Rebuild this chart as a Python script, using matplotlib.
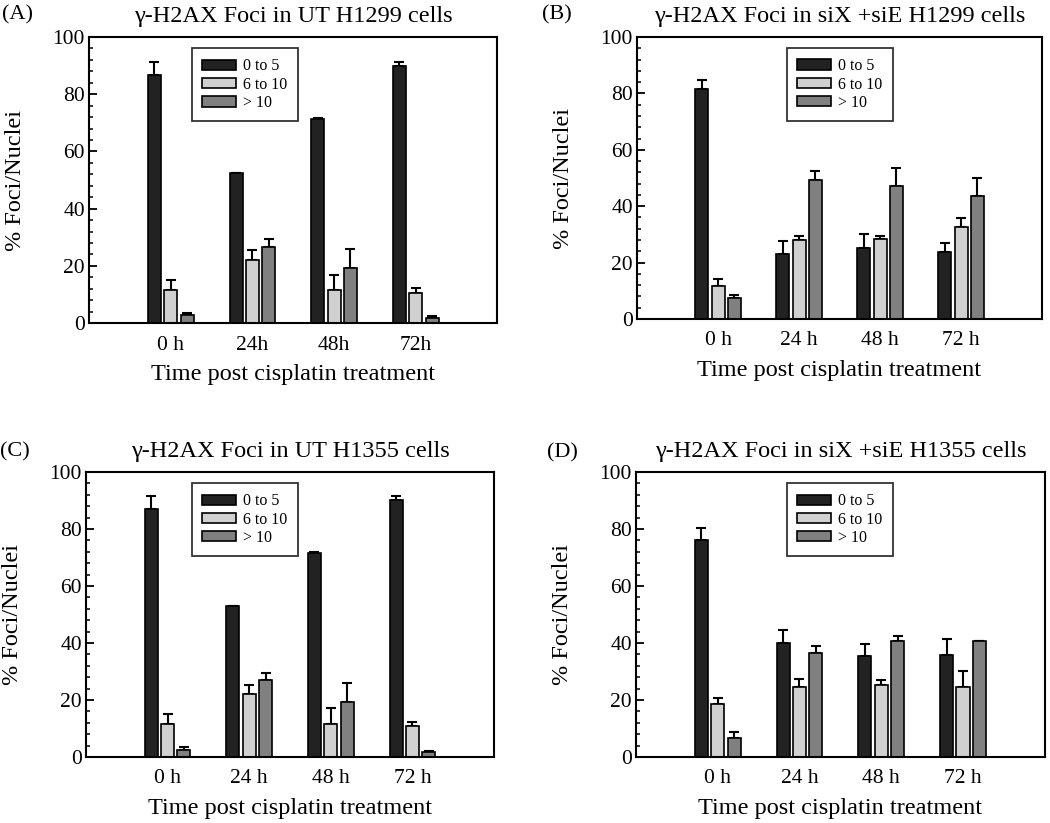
import numpy as np
import matplotlib
matplotlib.use('Agg')
import matplotlib.pyplot as plt
from matplotlib.ticker import MultipleLocator

plt.rcParams['font.family'] = ['Liberation Serif', 'DejaVu Serif']

series_labels = ['0 to 5', '6 to 10', '> 10']
time_labels_a = ['0 h', '24h', '48h', '72h']
time_labels = ['0 h', '24 h', '48 h', '72 h']

# (A) UT H1299
a_low = [86.6, 52.6, 71.3, 89.7]
a_low_err = [4.7, 0.0, 0.5, 1.6]
a_mid = [11.4, 22.1, 11.4, 10.6]
a_mid_err = [3.5, 3.3, 5.5, 1.6]
a_high = [2.7, 26.6, 19.2, 1.9]
a_high_err = [0.8, 2.7, 6.8, 0.4]

# (B) siX +siE H1299
b_low = [81.4, 23.1, 25.1, 23.8]
b_low_err = [3.5, 4.7, 5.0, 3.3]
b_mid = [11.8, 28.1, 28.5, 32.8]
b_mid_err = [2.4, 1.5, 1.1, 2.9]
b_high = [7.4, 49.3, 47.2, 43.6]
b_high_err = [1.1, 3.1, 6.5, 6.3]

# (C) UT H1355
c_low = [87.0, 53.1, 71.6, 90.1]
c_low_err = [4.5, 0.0, 0.4, 1.4]
c_mid = [11.7, 22.2, 11.7, 10.9]
c_mid_err = [3.5, 3.2, 5.5, 1.4]
c_high = [2.6, 26.9, 19.3, 1.8]
c_high_err = [0.9, 2.6, 6.7, 0.3]

# (D) siX +siE H1355
d_low = [76.1, 39.9, 35.6, 35.8]
d_low_err = [4.4, 4.7, 4.1, 5.7]
d_mid = [18.6, 24.7, 25.1, 24.7]
d_mid_err = [2.1, 2.6, 2.0, 5.6]
d_high = [6.7, 36.6, 40.8, 40.8]
d_high_err = [2.1, 2.5, 1.7, 0.0]

colors = ['#222222', '#d0d0d0', '#808080']


def draw_panel(ax, vals, errs, ticklabels, title, leg_x):
    x = np.arange(1, 5)
    width = 0.16
    offsets = [-0.2, 0.0, 0.2]
    for v, e, c, off, lab in zip(vals, errs, colors, offsets, series_labels):
        ax.bar(x + off, v, width, color=c, edgecolor='black', linewidth=1.2,
               label=lab, zorder=2)
        ax.errorbar(x + off, v, yerr=[np.zeros(len(e)), e], fmt='none',
                    ecolor='black', elinewidth=1.5, capsize=3.5, capthick=1.5,
                    zorder=1)
    ax.set_xlim(0, 5)
    ax.set_ylim(0, 100)
    ax.set_xticks(x)
    ax.set_xticklabels(ticklabels, fontsize=15.5)
    ax.tick_params(axis='x', length=0, pad=9)
    ax.yaxis.set_major_locator(MultipleLocator(20))
    ax.yaxis.set_minor_locator(MultipleLocator(4))
    ax.tick_params(axis='y', which='major', direction='in', length=6, width=1.3,
                   labelsize=15.5, pad=3, right=False)
    ax.tick_params(axis='y', which='minor', direction='in', length=3, width=1.1,
                   right=False)
    for s in ax.spines.values():
        s.set_linewidth(1.5)
    ax.set_ylabel('% Foci/Nuclei', fontsize=17.5, labelpad=19)
    ax.set_xlabel('Time post cisplatin treatment', fontsize=17.5, labelpad=7)
    ax.set_title(title, fontsize=17.5, pad=11)
    leg = ax.legend(loc='upper left', bbox_to_anchor=(leg_x, 0.962),
                    fontsize=11.5, frameon=True, fancybox=False, edgecolor='black',
                    handlelength=2.1, handleheight=0.6, labelspacing=0.15,
                    handletextpad=0.45, borderpad=0.65, borderaxespad=0)
    leg.get_frame().set_linewidth(1.3)


fig = plt.figure(figsize=(10.5, 8.23), dpi=100)
ax_a = fig.add_axes([0.0848, 0.6075, 0.389, 0.3475])
ax_b = fig.add_axes([0.6067, 0.6124, 0.3857, 0.3426])
ax_c = fig.add_axes([0.0819, 0.0802, 0.3886, 0.3463])
ax_d = fig.add_axes([0.6057, 0.0802, 0.3893, 0.3463])

draw_panel(ax_a, [a_low, a_mid, a_high], [a_low_err, a_mid_err, a_high_err],
           time_labels_a, 'γ-H2AX Foci in UT H1299 cells', 0.252)
draw_panel(ax_b, [b_low, b_mid, b_high], [b_low_err, b_mid_err, b_high_err],
           time_labels, 'γ-H2AX Foci in siX +siE H1299 cells', 0.37)
draw_panel(ax_c, [c_low, c_mid, c_high], [c_low_err, c_mid_err, c_high_err],
           time_labels, 'γ-H2AX Foci in UT H1355 cells', 0.26)
draw_panel(ax_d, [d_low, d_mid, d_high], [d_low_err, d_mid_err, d_high_err],
           time_labels, 'γ-H2AX Foci in siX +siE H1355 cells', 0.369)

# panel letters
fig.text(2 / 1050, 1 - 15 / 823, '(A)', fontsize=16, ha='left', va='center')
fig.text(542 / 1050, 1 - 15 / 823, '(B)', fontsize=16, ha='left', va='center')
fig.text(0 / 1050, 1 - 452 / 823, '(C)', fontsize=16, ha='left', va='center')
fig.text(547 / 1050, 1 - 453 / 823, '(D)', fontsize=16, ha='left', va='center')

fig.savefig('out.png', dpi=100)
